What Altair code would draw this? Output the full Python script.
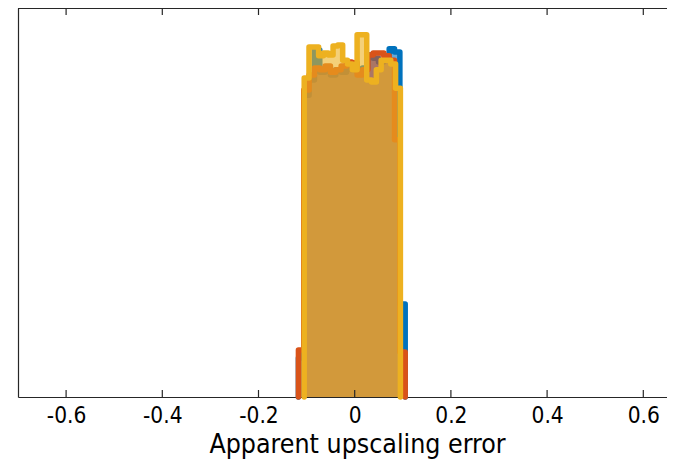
import altair as alt
import pandas as pd

# ---- data ----
tick_values = [-0.6, -0.4, -0.2, 0, 0.2, 0.4, 0.6]
series_names = ["A", "B", "C"]
series_colors = ["#0072BD", "#D95319", "#EDB120"]
bin_start = [-0.117, -0.117, -0.105]
bin_width = [0.0111, 0.0111, 0.01]
blue_counts = [100, 776, 815, 892, 835, 846, 828, 841, 835, 846,
               841, 835, 846, 879, 871, 861, 866, 895, 887, 239]
orange_counts = [121, 789, 828, 846, 841, 851, 835, 841, 851, 861,
                 859, 828, 841, 879, 884, 884, 877, 866, 661, 116]
yellow_counts = [820, 900, 900, 877, 884, 879, 902, 905, 866, 856,
                 841, 931, 931, 815, 810, 841, 866, 866, 856, 794]
all_counts = [blue_counts, orange_counts, yellow_counts]

W, H = 649, 389
X_DOMAIN = [-0.7, -0.7 + 649 / 481.0]
AX = "#262626"
TITLE = "Apparent upscaling error"
FONT = "DejaVu Sans Condensed, DejaVu Sans, sans-serif"

xscale = alt.Scale(domain=X_DOMAIN, nice=False, zero=False)
yscale = alt.Scale(domain=[0, 1000], nice=False, zero=True)

label_expr = ("datum.value == 0 ? '0' : (datum.value < 0 ? '-' + format(-datum.value, '.1f') "
              ": format(datum.value, '.1f'))")

xaxis = alt.Axis(values=tick_values, labelExpr=label_expr, ticks=False, grid=False,
                 domain=True, domainColor=AX, domainWidth=1.2,
                 labelFont=FONT, labelFontSize=22.5, labelColor="#000000",
                 labelPadding=7, titleFont=FONT, titleFontSize=26.5,
                 titleFontWeight="normal", titleColor="#000000", titlePadding=5,
                 titleX=339)
yaxis = alt.Axis(labels=False, ticks=False, grid=False, title=None,
                 domain=True, domainColor=AX, domainWidth=1.2)


def X(field):
    return alt.X(field, scale=xscale, axis=xaxis, title=TITLE)


def Y(field):
    return alt.Y(field, scale=yscale, axis=yaxis, title=None)


layers = []
for k, (name, color) in enumerate(zip(series_names, series_colors)):
    counts = all_counts[k]
    n = len(counts)
    edges = [bin_start[k] + bin_width[k] * i for i in range(n + 1)]
    area_df = pd.DataFrame({
        "x": edges[:n] + [edges[n]],
        "y": counts + [counts[-1]],
    })
    line_df = pd.DataFrame({
        "x": [edges[0]] + edges[:n] + [edges[n], edges[n]],
        "y": [0] + counts + [counts[-1], 0],
        "o": list(range(n + 3)),
    })
    area = alt.Chart(area_df).mark_area(
        interpolate="step-after", color=color, opacity=0.6
    ).encode(x=X("x:Q"), y=Y("y:Q"))
    line = alt.Chart(line_df).mark_line(
        interpolate="step-after", color=color, strokeWidth=5.5,
        strokeCap="round", strokeJoin="round"
    ).encode(x=X("x:Q"), y=Y("y:Q"), order="o:Q")
    layers += [area, line]

ticks_df = pd.DataFrame({"t": tick_values})
bottom_ticks = alt.Chart(ticks_df).mark_rule(color=AX, strokeWidth=1.2).encode(
    x=X("t:Q"), y=alt.value(H), y2=alt.value(H - 7))
top_ticks = alt.Chart(ticks_df).mark_rule(color=AX, strokeWidth=1.2).encode(
    x=X("t:Q"), y=alt.value(0), y2=alt.value(7))
top_line = alt.Chart(ticks_df).mark_rule(color=AX, strokeWidth=1.2).encode(
    x=alt.value(0), x2=alt.value(W), y=alt.value(0))

chart = alt.layer(*layers, bottom_ticks, top_ticks, top_line).properties(
    width=W, height=H,
    autosize=alt.AutoSizeParams(type="none"),
    padding={"left": 10, "top": 0, "right": 0, "bottom": 62},
).configure(background="white").configure_view(strokeWidth=0)

chart.save("out.html", embed_options={"renderer": "svg", "actions": False})
